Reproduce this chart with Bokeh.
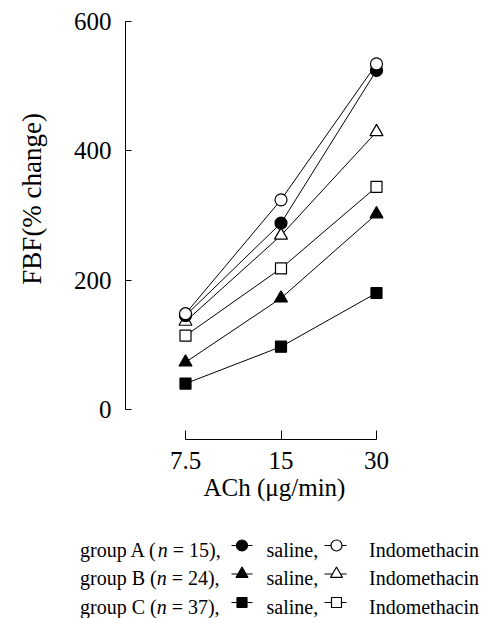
import math
from bokeh.plotting import figure
from bokeh.layouts import column, row
from bokeh.models import Range1d, FixedTicker, CustomJSTickFormatter
from bokeh.core.properties import value
from bokeh.embed import file_html
from bokeh.resources import INLINE

# ---- data ----
doses = [7.5, 15, 30]
x_tick_labels = ["7.5", "15", "30"]
y_ticks = [0, 200, 400, 600]
a_saline = [145, 288, 524]
a_indo = [148, 324, 534]
b_saline = [73, 172, 302]
b_indo = [136, 269, 429]
c_saline = [40, 97, 180]
c_indo = [114, 218, 344]
group_names = ["A", "B", "C"]
group_n = [15, 24, 37]
x_label = "ACh (\u03bcg/min)"
y_label = "FBF(% change)"

FONT = "Liberation Serif"

# ---- geometry (page pixels) ----
W = 484
H_MAIN = 520
H_LEG = 98
YLAB_W = 60
FR_LEFT, FR_RIGHT = 125, 423
FR_TOP, FR_BOTTOM = 14, 439
Y0_PX, Y600_PX = 409.0, 20.7
PX_PER_UNIT = (Y0_PX - Y600_PX) / 600.0
y_start = -(FR_BOTTOM - Y0_PX) / PX_PER_UNIT
y_end = (Y0_PX - FR_TOP) / PX_PER_UNIT
X_LO_PX, X_HI_PX = 185.0, 376.0
PX_PER_OCT = (X_HI_PX - X_LO_PX) / 2.0
x_start = doses[0] * 2 ** (-(X_LO_PX - FR_LEFT) / PX_PER_OCT)
x_end = doses[-1] * 2 ** ((FR_RIGHT - X_HI_PX) / PX_PER_OCT)

# ---- y label strip ----
ylab = figure(width=YLAB_W, height=H_MAIN, x_range=Range1d(0, YLAB_W),
              y_range=Range1d(H_MAIN, 0), output_backend="svg", toolbar_location=None,
              x_axis_location=None, y_axis_location=None,
              min_border_left=0, min_border_right=0, min_border_top=0, min_border_bottom=0)
ylab.outline_line_color = None
ylab.xgrid.visible = False
ylab.ygrid.visible = False
ylab.frame_align = False
ylab.text(x=[31.5], y=[198.3], text=[y_label], angle=math.pi / 2,
          text_align="center", text_baseline="alphabetic",
          text_font=value(FONT), text_font_size="27px", text_color="#000000")

# ---- main plot ----
p = figure(width=W - YLAB_W, height=H_MAIN, x_axis_type="log",
           x_range=Range1d(x_start, x_end), y_range=Range1d(y_start, y_end),
           output_backend="svg", toolbar_location=None,
           min_border_left=FR_LEFT - YLAB_W, min_border_right=W - FR_RIGHT,
           min_border_top=FR_TOP, min_border_bottom=H_MAIN - FR_BOTTOM)
p.frame_align = False
p.outline_line_color = None
p.xgrid.visible = False
p.ygrid.visible = False

ya = p.yaxis[0]
ya.ticker = FixedTicker(ticks=y_ticks)
ya.bounds = (y_ticks[0], y_ticks[-1])
ya.major_tick_in = 6
ya.major_tick_out = 0
ya.minor_tick_in = 0
ya.minor_tick_out = 0
ya.major_label_standoff = 14
ya.major_label_text_font = FONT
ya.major_label_text_font_size = "25px"
ya.major_label_text_color = "black"
ya.axis_line_color = "black"
ya.major_tick_line_color = "black"

xa = p.xaxis[0]
xa.ticker = FixedTicker(ticks=doses)
xa.formatter = CustomJSTickFormatter(code="return tick.toString();")
xa.bounds = (doses[0], doses[-1])
xa.major_tick_in = 9
xa.major_tick_out = 0
xa.minor_tick_in = 0
xa.minor_tick_out = 0
xa.major_label_standoff = 12
xa.major_label_text_font = FONT
xa.major_label_text_font_size = "25px"
xa.major_label_text_color = "black"
xa.axis_label = x_label
xa.axis_label_text_font = FONT
xa.axis_label_text_font_size = "25px"
xa.axis_label_text_font_style = "normal"
xa.axis_label_text_color = "black"
xa.axis_label_standoff = 2
xa.axis_line_color = "black"
xa.major_tick_line_color = "black"

series = [
    (c_saline, "square", "black", 11),
    (c_indo, "square", "white", 11),
    (b_saline, "triangle", "black", 13),
    (b_indo, "triangle", "white", 13),
    (a_saline, "circle", "black", 12),
    (a_indo, "circle", "white", 12),
]
for vals, _, _, _ in series:
    p.line(doses, vals, line_color="black", line_width=1)
for vals, mk, fill, sz in series:
    p.scatter(doses, vals, marker=mk, size=sz, fill_color=fill,
              line_color="black", line_width=1.2)

# ---- legend strip ----
leg = figure(width=W, height=H_LEG, x_range=Range1d(0, W), y_range=Range1d(H_LEG, 0),
             output_backend="svg", toolbar_location=None,
             x_axis_location=None, y_axis_location=None,
             min_border_left=0, min_border_right=0, min_border_top=0, min_border_bottom=0)
leg.frame_align = False
leg.outline_line_color = None
leg.xgrid.visible = False
leg.ygrid.visible = False

TW = {' ': 250, '(': 333, ')': 333, ',': 250, '=': 564, 'A': 722, 'B': 667, 'C': 667,
      'g': 500, 'r': 333, 'o': 500, 'u': 500, 'p': 500, 'n': 500}
LFS = 20.0


def tw(s):
    return sum(TW.get(c, 500) for c in s) / 1000.0 * LFS


def ly(page_y):
    return page_y - H_MAIN

baselines = [549.0, 577.5, 606.0]
marker_y = [545.0, 573.5, 602.0]
row_markers = [("circle", 11), ("triangle", 12), ("square", 10)]
for i, (g, n) in enumerate(zip(group_names, group_n)):
    yb = ly(baselines[i])
    x0 = 79.5
    s1 = "group %s (" % g
    s2 = "n"
    s3 = "= %d)," % n
    x_n = x0 + tw(s1)
    x_rest = x_n + tw(s2) + tw(" ")
    leg.text(x=[x0, x_rest, 266.0, 368.5], y=[yb] * 4,
             text=[s1, s3, "saline,", "Indomethacin"],
             text_font=value(FONT), text_font_size="%gpx" % LFS,
             text_baseline="alphabetic", text_align="left", text_color="black")
    leg.text(x=[x_n], y=[yb], text=[s2], text_font=value(FONT),
             text_font_size="%gpx" % LFS, text_font_style="italic",
             text_baseline="alphabetic", text_align="left", text_color="black")
    ym = ly(marker_y[i])
    mk, sz = row_markers[i]
    for (a, b, c), fill in (((231.0, 252.0, 241.5), "black"), ((324.0, 346.0, 336.0), "white")):
        leg.line([a, b], [ym, ym], line_color="black", line_width=1.2)
        leg.scatter([c], [ym], marker=mk, size=sz, fill_color=fill,
                    line_color="black", line_width=1.2)

layout = column(row(ylab, p, spacing=0), leg, spacing=0)
open("out.html", "w").write(file_html(layout, INLINE))
